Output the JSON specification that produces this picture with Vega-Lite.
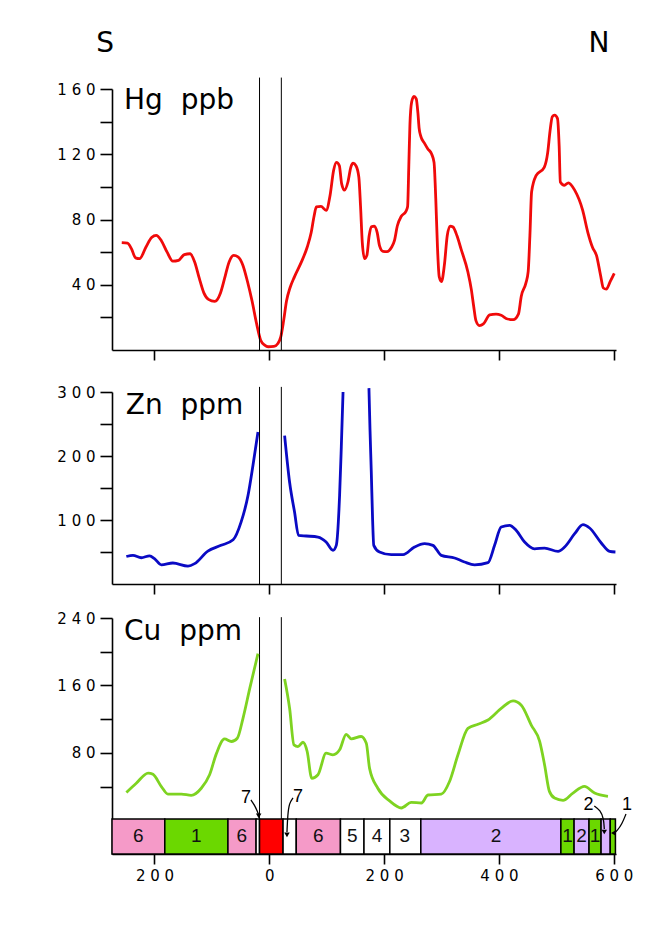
{
"$schema": "https://vega.github.io/schema/vega-lite/v6.json",
"background": "white",
"padding": {"left": 56, "top": 30, "right": 0, "bottom": 0},
"bounds": "flush",
"spacing": 34,
"config": {
  "view": {"stroke": null},
  "axis": {"domainColor": "black", "tickColor": "black", "domainWidth": 1.6, "tickWidth": 1.6, "labelColor": "black", "labelFont": "DejaVu Sans", "labelFontSize": 15, "grid": false, "labelOverlap": false, "labelFlush": false}
},
"datasets": {
  "gap": [{"x": -17}, {"x": 21}],
  "hg": [
    {"x":-257,"y":65.8},{"x":-247,"y":65.5},{"x":-240,"y":62},{"x":-233,"y":56.5},{"x":-226,"y":56},{"x":-215,"y":63},{"x":-205,"y":69},{"x":-197,"y":70.3},{"x":-188,"y":67},{"x":-178,"y":60},{"x":-168,"y":54.5},{"x":-158,"y":55},{"x":-148,"y":58.5},{"x":-138,"y":59},{"x":-130,"y":54},{"x":-122,"y":44},{"x":-114,"y":35},{"x":-106,"y":31},{"x":-95,"y":29.8},{"x":-85,"y":35},{"x":-78,"y":43.7},{"x":-70,"y":54},{"x":-62,"y":58},{"x":-54,"y":57},{"x":-46,"y":52},{"x":-38,"y":42},{"x":-30,"y":30},{"x":-22,"y":16},{"x":-15,"y":6},{"x":-8,"y":3},{"x":-2,"y":2},{"x":8,"y":2.2},{"x":15,"y":4},{"x":20,"y":8},{"x":25,"y":18},{"x":30,"y":30},{"x":36,"y":38},{"x":44,"y":45},{"x":56,"y":54},{"x":66,"y":63},{"x":73,"y":72},{"x":78,"y":82},{"x":82,"y":87.7},{"x":90,"y":88},{"x":99,"y":85.6},{"x":106,"y":95},{"x":112,"y":110},{"x":117,"y":115},{"x":122,"y":113},{"x":126,"y":102},{"x":131,"y":98},{"x":137,"y":103},{"x":142,"y":112},{"x":146,"y":114.5},{"x":151,"y":113},{"x":156,"y":106},{"x":159,"y":88},{"x":162,"y":66},{"x":166,"y":56},{"x":170,"y":58},{"x":174,"y":70},{"x":178,"y":75.5},{"x":183,"y":76},{"x":188,"y":72},{"x":192,"y":64},{"x":198,"y":60.5},{"x":205,"y":60.3},{"x":213,"y":63},{"x":218,"y":67},{"x":223,"y":76},{"x":230,"y":82},{"x":238,"y":85},{"x":241,"y":88},{"x":243,"y":112},{"x":245,"y":138},{"x":248,"y":152},{"x":252,"y":155.5},{"x":256,"y":154},{"x":259,"y":145},{"x":261,"y":136},{"x":264,"y":131},{"x":270,"y":127},{"x":276,"y":123.4},{"x":283,"y":120},{"x":287,"y":115},{"x":290,"y":93},{"x":293,"y":63},{"x":296,"y":45},{"x":300,"y":42},{"x":305,"y":52},{"x":310,"y":70},{"x":315,"y":76},{"x":320,"y":75.4},{"x":327,"y":70},{"x":334,"y":62},{"x":346,"y":47.8},{"x":352,"y":37},{"x":356,"y":27},{"x":360,"y":18},{"x":366,"y":15},{"x":373,"y":16},{"x":384,"y":21.5},{"x":395,"y":22},{"x":404,"y":21.3},{"x":415,"y":19},{"x":425,"y":18.6},{"x":434,"y":22},{"x":439,"y":33},{"x":447,"y":41},{"x":451,"y":48},{"x":454,"y":70},{"x":457,"y":97},{"x":465,"y":107},{"x":479,"y":112},{"x":485,"y":121},{"x":489,"y":134},{"x":493,"y":143},{"x":497,"y":144},{"x":502,"y":142},{"x":505,"y":125},{"x":507,"y":103},{"x":514,"y":101},{"x":521,"y":102.5},{"x":532,"y":98},{"x":546,"y":85.6},{"x":555,"y":72},{"x":563,"y":63},{"x":570,"y":58},{"x":577,"y":46},{"x":582,"y":38},{"x":587,"y":37.3},{"x":594,"y":42},{"x":601,"y":47}
  ],
  "zn": [
    {"s":"a","x":-249,"y":43},{"s":"a","x":-237.5,"y":44.8},{"s":"a","x":-223,"y":41},{"s":"a","x":-208.5,"y":44},{"s":"a","x":-200,"y":39.6},{"s":"a","x":-188,"y":30},{"s":"a","x":-168,"y":32.8},{"s":"a","x":-141.6,"y":28},{"s":"a","x":-130,"y":31.8},{"s":"a","x":-107,"y":51.5},{"s":"a","x":-84,"y":60.4},{"s":"a","x":-63,"y":69},{"s":"a","x":-49,"y":97},{"s":"a","x":-37,"y":138.6},{"s":"a","x":-28.4,"y":185.5},{"s":"a","x":-19.7,"y":237.5},
    {"s":"b","x":26.7,"y":232},{"s":"b","x":35.4,"y":159},{"s":"b","x":44,"y":112.5},{"s":"b","x":51,"y":76},{"s":"b","x":64.5,"y":75},{"s":"b","x":84.8,"y":73.4},{"s":"b","x":99,"y":65.6},{"s":"b","x":111,"y":52.6},{"s":"b","x":116.7,"y":60.4},{"s":"b","x":122.5,"y":138.6},{"s":"b","x":125.5,"y":215},{"s":"b","x":128.5,"y":300},
    {"s":"c","x":173.6,"y":306},{"s":"c","x":175.5,"y":240},{"s":"c","x":177.7,"y":175},{"s":"c","x":180,"y":100},{"s":"c","x":182,"y":60.4},{"s":"c","x":192,"y":50},{"s":"c","x":212.5,"y":45.8},{"s":"c","x":233,"y":45.8},{"s":"c","x":253,"y":57.8},{"s":"c","x":270.6,"y":63},{"s":"c","x":285,"y":60.4},{"s":"c","x":299.6,"y":44.8},{"s":"c","x":322.8,"y":40.6},{"s":"c","x":340,"y":34.4},{"s":"c","x":357.6,"y":30},{"s":"c","x":381,"y":33.3},{"s":"c","x":392.5,"y":60.4},{"s":"c","x":404,"y":89},{"s":"c","x":418.6,"y":91.7},{"s":"c","x":430,"y":84},{"s":"c","x":444.8,"y":65.6},{"s":"c","x":462,"y":55},{"s":"c","x":479.6,"y":56},{"s":"c","x":503,"y":51},{"s":"c","x":514.5,"y":57.8},{"s":"c","x":532,"y":78.6},{"s":"c","x":546.5,"y":92.7},{"s":"c","x":558,"y":87.5},{"s":"c","x":578,"y":64.5},{"s":"c","x":593,"y":51},{"s":"c","x":603,"y":50}
  ],
  "cu": [
    {"s":"a","x":-249,"y":33},{"s":"a","x":-231.7,"y":44},{"s":"a","x":-211,"y":56},{"s":"a","x":-202.6,"y":54.5},{"s":"a","x":-188,"y":40},{"s":"a","x":-176.5,"y":31},{"s":"a","x":-153,"y":31},{"s":"a","x":-136,"y":29.6},{"s":"a","x":-118.5,"y":38},{"s":"a","x":-104,"y":54},{"s":"a","x":-92,"y":79.4},{"s":"a","x":-78,"y":96.6},{"s":"a","x":-66,"y":93.5},{"s":"a","x":-55.7,"y":97.4},{"s":"a","x":-45.8,"y":121},{"s":"a","x":-34,"y":156.5},{"s":"a","x":-19.7,"y":197.7},
    {"s":"b","x":26.7,"y":167.6},{"s":"b","x":35.4,"y":132.9},{"s":"b","x":43,"y":89.5},{"s":"b","x":50,"y":87.5},{"s":"b","x":58.7,"y":92.6},{"s":"b","x":66,"y":81.6},{"s":"b","x":74,"y":49.8},{"s":"b","x":84.8,"y":54},{"s":"b","x":99,"y":79.6},{"s":"b","x":111,"y":77.7},{"s":"b","x":122.5,"y":83.6},{"s":"b","x":134,"y":102},{"s":"b","x":143,"y":96.6},{"s":"b","x":160,"y":99.4},{"s":"b","x":169,"y":91.4},{"s":"b","x":174.7,"y":61.6},{"s":"b","x":189,"y":38},{"s":"b","x":209.6,"y":23},{"s":"b","x":230,"y":14.6},{"s":"b","x":247.4,"y":21.3},{"s":"b","x":265,"y":20.5},{"s":"b","x":276.5,"y":30},{"s":"b","x":299.6,"y":31},{"s":"b","x":314,"y":46},{"s":"b","x":328.7,"y":77.7},{"s":"b","x":346,"y":109},{"s":"b","x":363.6,"y":114},{"s":"b","x":381,"y":119},{"s":"b","x":404,"y":132.8},{"s":"b","x":424.6,"y":141.6},{"s":"b","x":439,"y":136.6},{"s":"b","x":456.4,"y":113},{"s":"b","x":471,"y":93.5},{"s":"b","x":479.6,"y":65.7},{"s":"b","x":488,"y":34.3},{"s":"b","x":497,"y":26.4},{"s":"b","x":511.7,"y":23.7},{"s":"b","x":529,"y":32.3},{"s":"b","x":549,"y":40.2},{"s":"b","x":566.7,"y":32.3},{"s":"b","x":590,"y":28.4}
  ],
  "units": [
    {"x0":-274,"x1":-182,"xm":-228,"unit":"6","label":"6"},
    {"x0":-182,"x1":-72,"xm":-127,"unit":"1","label":"1"},
    {"x0":-72,"x1":-23,"xm":-48,"unit":"6","label":"6"},
    {"x0":-23,"x1":-17,"xm":-20,"unit":"w","label":""},
    {"x0":-17,"x1":24,"xm":3.5,"unit":"7","label":""},
    {"x0":24,"x1":47,"xm":35.5,"unit":"w","label":""},
    {"x0":47,"x1":124,"xm":85.5,"unit":"6","label":"6"},
    {"x0":124,"x1":165,"xm":144.5,"unit":"w","label":"5"},
    {"x0":165,"x1":210,"xm":187.5,"unit":"w","label":"4"},
    {"x0":210,"x1":264,"xm":236,"unit":"w","label":"3"},
    {"x0":264,"x1":508,"xm":395,"unit":"2","label":"2"},
    {"x0":508,"x1":531,"xm":519.5,"unit":"1","label":"1"},
    {"x0":531,"x1":557,"xm":544,"unit":"2","label":"2"},
    {"x0":557,"x1":578,"xm":567.5,"unit":"1","label":"1"},
    {"x0":578,"x1":594,"xm":586,"unit":"2","label":""},
    {"x0":594,"x1":603,"xm":598.5,"unit":"1","label":""}
  ],
  "notes": [
    {"t":"7","x":-40.6,"y":26.5},
    {"t":"7","x":50,"y":27.6},
    {"t":"2","x":556,"y":18.2},
    {"t":"1","x":623,"y":18.2}
  ],
  "arrows": [
    {"id":"a","o":1,"x":-31.9,"y":24.1},{"id":"a","o":2,"x":-26.1,"y":18.5},{"id":"a","o":3,"x":-20.2,"y":9.8},{"id":"a","o":4,"x":-18.5,"y":6.3},
    {"id":"b","o":1,"x":41.3,"y":26.5},{"id":"b","o":2,"x":34.8,"y":20.5},{"id":"b","o":3,"x":32.1,"y":6.3},{"id":"b","o":4,"x":30.8,"y":-13.9},
    {"id":"c","o":1,"x":566.2,"y":17},{"id":"c","o":2,"x":576.7,"y":11.9},{"id":"c","o":3,"x":582.6,"y":1.9},{"id":"c","o":4,"x":583.6,"y":-10.3},
    {"id":"d","o":1,"x":621.4,"y":7.5},{"id":"d","o":2,"x":614.5,"y":-4.4},{"id":"d","o":3,"x":605.7,"y":-12.7},{"id":"d","o":4,"x":601,"y":-15}
  ],
  "heads": [
    {"h":"d","x":-18.5,"y":5.1},
    {"h":"d","x":30.8,"y":-17.4},
    {"h":"d","x":583.6,"y":-13.9},
    {"h":"l","x":599.5,"y":-15}
  ]
},
"vconcat": [
  {
    "width": 504, "height": 261,
    "resolve": {"axis": {"y": "independent"}},
    "layer": [
      {
        "data": {"name": "hg"},
        "mark": {"type": "line", "color": "#f00a0a", "strokeWidth": 2.8, "interpolate": "monotone"},
        "encoding": {
          "x": {"field": "x", "type": "quantitative", "title": null, "scale": {"domain": [-274, 604], "nice": false, "zero": false}, "axis": {"values": [-200, 0, 200, 400, 600], "labels": false, "tickSize": 10, "title": null}},
          "y": {"field": "y", "type": "quantitative", "title": null, "scale": {"domain": [0, 160], "nice": false, "zero": false}, "axis": {"orient": "left", "values": [40, 80, 120, 160], "tickSize": 12, "labelPadding": 5, "title": null, "labelExpr": "join(split(datum.label, ''), ' ')"}}
        }
      },
      {
        "data": {"name": "gap"},
        "mark": {"type": "rule", "color": "black", "strokeWidth": 1},
        "encoding": {
          "x": {"field": "x", "type": "quantitative", "title": null},
          "y": {"datum": 0, "type": "quantitative", "title": null, "axis": {"orient": "left", "values": [20, 60, 100, 140], "labels": false, "domain": false, "tickSize": 12, "title": null}},
          "y2": {"datum": 167}
        }
      },
      {
        "data": {"values": [{"t": "Hg\u00a0\u00a0ppb"}]},
        "mark": {"type": "text", "font": "DejaVu Sans", "fontSize": 28, "align": "left", "baseline": "alphabetic", "color": "black"},
        "encoding": {"x": {"datum": -253, "title": null}, "y": {"datum": 147.7, "title": null, "axis": null}, "text": {"field": "t"}}
      },
      {
        "data": {"values": [{"t": "S"}]},
        "mark": {"type": "text", "font": "DejaVu Sans", "fontSize": 28, "align": "center", "baseline": "alphabetic", "color": "black"},
        "encoding": {"x": {"datum": -286, "title": null}, "y": {"datum": 182.5, "title": null, "axis": null}, "text": {"field": "t"}}
      },
      {
        "data": {"values": [{"t": "N"}]},
        "mark": {"type": "text", "font": "DejaVu Sans", "fontSize": 28, "align": "center", "baseline": "alphabetic", "color": "black"},
        "encoding": {"x": {"datum": 574.4, "title": null}, "y": {"datum": 182.5, "title": null, "axis": null}, "text": {"field": "t"}}
      }
    ]
  },
  {
    "width": 504, "height": 200,
    "resolve": {"axis": {"y": "independent"}},
    "layer": [
      {
        "data": {"name": "zn"},
        "mark": {"type": "line", "color": "#0a0ac4", "strokeWidth": 2.8, "interpolate": "monotone"},
        "encoding": {
          "x": {"field": "x", "type": "quantitative", "title": null, "scale": {"domain": [-274, 604], "nice": false, "zero": false}, "axis": {"values": [-200, 0, 200, 400, 600], "labels": false, "tickSize": 10, "title": null}},
          "y": {"field": "y", "type": "quantitative", "title": null, "scale": {"domain": [0, 300], "range": [200, 8], "nice": false, "zero": false}, "axis": {"orient": "left", "values": [100, 200, 300], "tickSize": 12, "labelPadding": 5, "title": null, "labelExpr": "join(split(datum.label, ''), ' ')"}},
          "detail": {"field": "s"}
        }
      },
      {
        "data": {"name": "gap"},
        "mark": {"type": "rule", "color": "black", "strokeWidth": 1},
        "encoding": {
          "x": {"field": "x", "type": "quantitative", "title": null},
          "y": {"datum": 0, "type": "quantitative", "title": null, "axis": {"orient": "left", "values": [50, 150, 250], "labels": false, "domain": false, "tickSize": 12, "title": null}},
          "y2": {"datum": 308}
        }
      },
      {
        "data": {"values": [{"t": "Zn\u00a0\u00a0ppm"}]},
        "mark": {"type": "text", "font": "DejaVu Sans", "fontSize": 28, "align": "left", "baseline": "alphabetic", "color": "black"},
        "encoding": {"x": {"datum": -250, "title": null}, "y": {"datum": 265.6, "title": null, "axis": null}, "text": {"field": "t"}}
      }
    ]
  },
  {
    "width": 504, "height": 236,
    "layer": [
      {
        "data": {"name": "gap"},
        "mark": {"type": "rule", "color": "black", "strokeWidth": 1},
        "encoding": {
          "x": {"field": "x", "type": "quantitative", "title": null, "scale": {"domain": [-274, 604], "nice": false, "zero": false}, "axis": {"values": [-200, 0, 200, 400, 600], "tickSize": 10, "labelPadding": 4, "title": null, "labelExpr": "join(split(format(abs(datum.value), 'd'), ''), ' ')"}},
          "y": {"datum": 1.5, "type": "quantitative", "title": null, "scale": {"domain": [-40, 240], "nice": false, "zero": false}, "axis": {"values": [40, 80, 120, 160, 200, 240], "tickSize": 12, "labelPadding": 5, "title": null, "labelExpr": "datum.value % 80 == 0 ? join(split(datum.label, ''), ' ') : ''"}},
          "y2": {"datum": 241}
        }
      },
      {
        "data": {"name": "cu"},
        "mark": {"type": "line", "color": "#7ed321", "strokeWidth": 2.8, "interpolate": "monotone"},
        "encoding": {"x": {"field": "x", "type": "quantitative", "title": null}, "y": {"field": "y", "type": "quantitative", "title": null}, "detail": {"field": "s"}}
      },
      {
        "data": {"values": [{"t": "Cu\u00a0\u00a0ppm"}]},
        "mark": {"type": "text", "font": "DejaVu Sans", "fontSize": 28, "align": "left", "baseline": "alphabetic", "color": "black"},
        "encoding": {"x": {"datum": -253, "title": null}, "y": {"datum": 214, "title": null}, "text": {"field": "t"}}
      },
      {
        "data": {"name": "units"},
        "mark": {"type": "rect", "stroke": "black", "strokeWidth": 1.5},
        "encoding": {
          "x": {"field": "x0", "type": "quantitative", "title": null},
          "x2": {"field": "x1"},
          "y": {"datum": 1.5, "title": null},
          "y2": {"datum": -40},
          "color": {"field": "unit", "type": "nominal", "legend": null, "scale": {"domain": ["6", "1", "7", "w", "2"], "range": ["#f59ac8", "#6bd800", "#ff0000", "#ffffff", "#d9b3ff"]}}
        }
      },
      {
        "data": {"name": "units"},
        "mark": {"type": "text", "font": "Liberation Sans", "fontSize": 19, "align": "center", "baseline": "middle", "color": "#111111"},
        "encoding": {"x": {"field": "xm", "type": "quantitative", "title": null}, "y": {"datum": -19, "title": null}, "text": {"field": "label"}}
      },
      {
        "data": {"name": "notes"},
        "mark": {"type": "text", "font": "Liberation Sans", "fontSize": 18, "align": "center", "baseline": "middle", "color": "black"},
        "encoding": {"x": {"field": "x", "type": "quantitative", "title": null}, "y": {"field": "y", "type": "quantitative", "title": null}, "text": {"field": "t"}}
      },
      {
        "data": {"name": "arrows"},
        "mark": {"type": "line", "color": "black", "strokeWidth": 1.3, "interpolate": "basis"},
        "encoding": {"x": {"field": "x", "type": "quantitative", "title": null}, "y": {"field": "y", "type": "quantitative", "title": null}, "detail": {"field": "id"}, "order": {"field": "o"}}
      },
      {
        "data": {"name": "heads"},
        "mark": {"type": "point", "filled": true, "color": "black", "size": 30, "opacity": 1},
        "encoding": {"x": {"field": "x", "type": "quantitative", "title": null}, "y": {"field": "y", "type": "quantitative", "title": null}, "shape": {"field": "h", "type": "nominal", "legend": null, "scale": {"domain": ["d", "l"], "range": ["triangle-down", "triangle-left"]}}}
      }
    ]
  }
]
}
